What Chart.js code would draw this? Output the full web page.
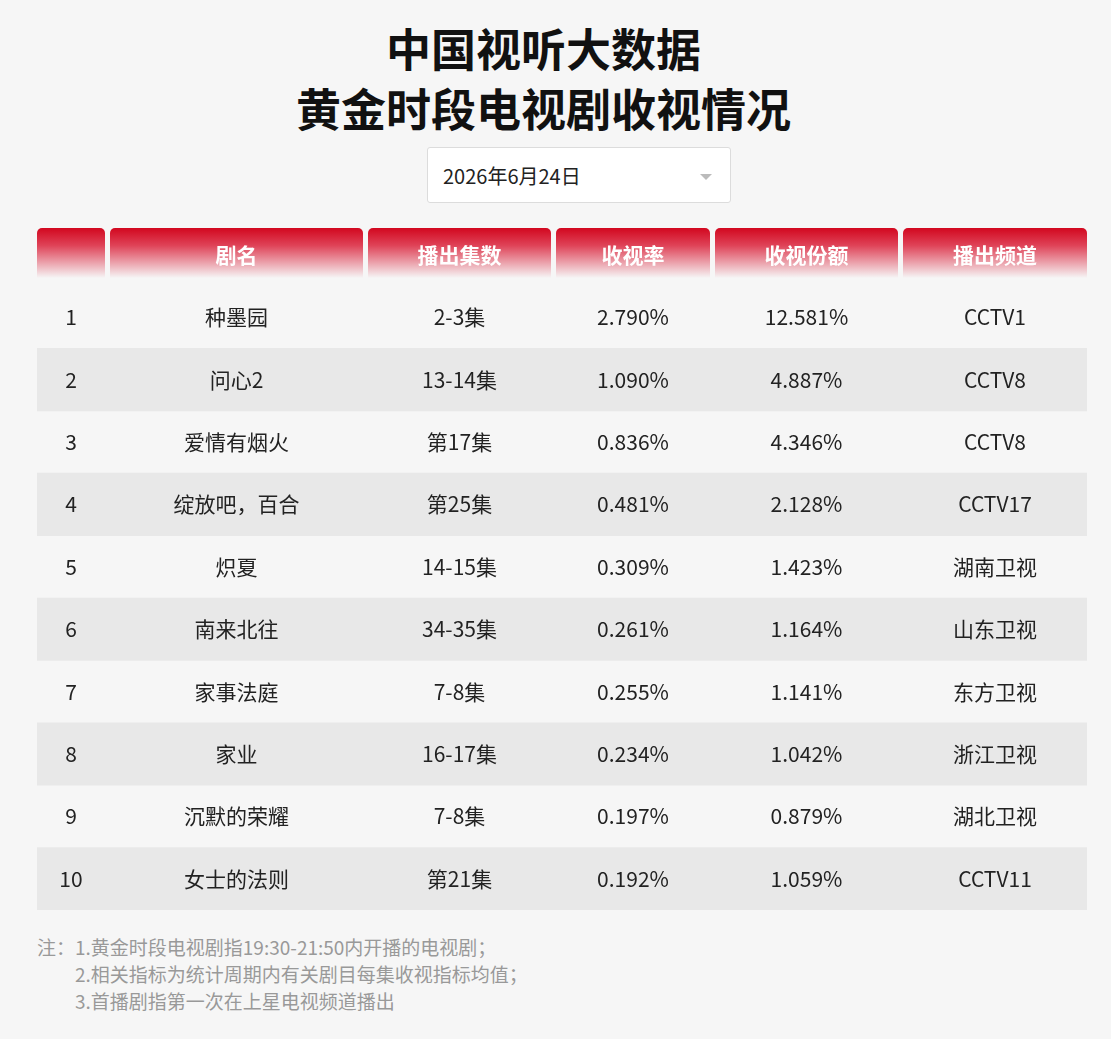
<!DOCTYPE html>
<html><head><meta charset="utf-8">
<script src="https://cdn.jsdelivr.net/npm/chart.js@4"></script>
<style>
body{margin:0;background:#f6f6f6;font-family:"Noto Sans CJK SC","Noto Sans",sans-serif;width:1111px;height:1039px;position:relative;overflow:hidden}
.t{position:absolute;left:0;width:1087px;text-align:center;font-weight:bold;font-size:45px;color:#111;line-height:60px}
.dd{position:absolute;left:427px;top:147px;width:304px;height:56px;background:#fff;border:1px solid #dcdcdc;border-radius:3px;font-size:20px;color:#222;line-height:56px;box-sizing:border-box;padding-left:15px}
.dd:after{content:"";position:absolute;right:18px;top:26px;border:6px solid transparent;border-top-color:#bbb}
#wrap{position:absolute;left:37px;top:228px;width:1050px;height:682px}
.note{position:absolute;left:37px;top:933px;font-size:19px;color:#999;line-height:27px}
</style></head><body>
<div class="t" style="top:18px">中国视听大数据</div>
<div class="t" style="top:78px">黄金时段电视剧收视情况</div>
<div class="dd">2026年6月24日</div>
<div id="wrap"><canvas id="c"></canvas></div>
<div class="note">注：1.黄金时段电视剧指19:30-21:50内开播的电视剧；<br>&emsp;&emsp;2.相关指标为统计周期内有关剧目每集收视指标均值；<br>&emsp;&emsp;3.首播剧指第一次在上星电视频道播出</div>
<script>
const headers=['','剧名','播出集数','收视率','收视份额','播出频道'];
const ranks=['1','2','3','4','5','6','7','8','9','10'];
const names=['种墨园','问心2','爱情有烟火','绽放吧，百合','炽夏','南来北往','家事法庭','家业','沉默的荣耀','女士的法则'];
const episodes=['2-3集','13-14集','第17集','第25集','14-15集','34-35集','7-8集','16-17集','7-8集','第21集'];
const ratings=[2.790,1.090,0.836,0.481,0.309,0.261,0.255,0.234,0.197,0.192];
const shares=[12.581,4.887,4.346,2.128,1.423,1.164,1.141,1.042,0.879,1.059];
const channels=['CCTV1','CCTV8','CCTV8','CCTV17','湖南卫视','山东卫视','东方卫视','浙江卫视','湖北卫视','CCTV11'];
const colEdges=[[0,68],[73,326],[331,514],[519,673],[678,861],[866,1050]];
const HEAD=58;
const tablePlugin={id:'table',afterDatasetsDraw(ch){
  const c=ch.ctx,x=ch.scales.x,y=ch.scales.y;
  c.save();
  colEdges.forEach((e,i)=>{
    const l=x.getPixelForValue(e[0]),r=x.getPixelForValue(e[1]);
    const g=c.createLinearGradient(0,0,0,50);
    g.addColorStop(0,'#d2071f');g.addColorStop(0.35,'#df4358');g.addColorStop(1,'#f6f6f6');
    c.fillStyle=g;c.beginPath();c.roundRect(l,0,r-l,50,[5,5,0,0]);c.fill();
    c.fillStyle='#fff';c.font='bold 21px "Noto Sans CJK SC"';c.textAlign='center';c.textBaseline='middle';
    c.fillText(headers[i],(l+r)/2,27);
  });
  c.font='21px "Noto Sans CJK SC"';c.fillStyle='#222';
  ranks.forEach((rk,j)=>{
    const py=y.getPixelForValue(j);
    const vals=[rk,names[j],episodes[j],ratings[j].toFixed(3)+'%',shares[j].toFixed(3)+'%',channels[j]];
    vals.forEach((v,i)=>{
      const cx=i==0?x.getPixelForValue(34):x.getPixelForValue((colEdges[i][0]+colEdges[i][1])/2);
      c.fillText(v,cx,py);
    });
  });
  c.restore();
}};
new Chart(document.getElementById('c'),{
  type:'bar',
  data:{labels:ranks,datasets:[{data:ranks.map((r,j)=>j%2==1?[0,1050]:null),backgroundColor:'#e8e8e8',barPercentage:1,categoryPercentage:1,borderWidth:0}]},
  options:{indexAxis:'y',responsive:true,maintainAspectRatio:false,animation:false,
    layout:{padding:{top:HEAD,left:0,right:0,bottom:0}},
    plugins:{legend:{display:false},tooltip:{enabled:false}},
    scales:{x:{display:false,min:0,max:1050},y:{display:false}}},
  plugins:[tablePlugin]
});
</script></body></html>
